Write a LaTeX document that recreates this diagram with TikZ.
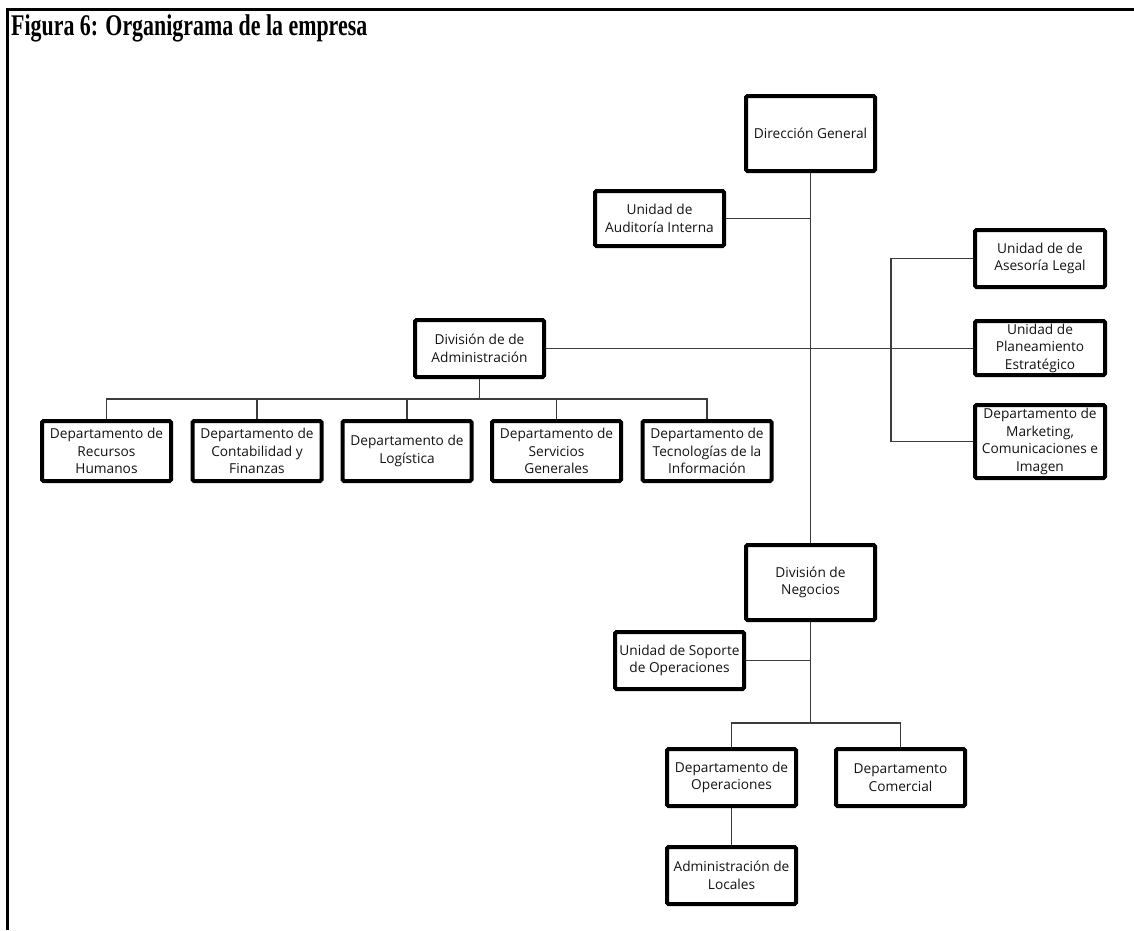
\documentclass[tikz,border=0pt]{standalone}
\usepackage{fontspec}
\setmainfont{Liberation Serif}
\newfontfamily\boxfont{Open Sans}
\usetikzlibrary{positioning}
\definecolor{conn}{HTML}{3C3C3C}
\definecolor{txt}{HTML}{141414}
\tikzset{
  orgbox/.style={draw=black, line width=4pt, rounded corners=1.5pt, fill=white,
    align=center, inner sep=0pt, text=txt,
    font=\boxfont\fontsize{13.7}{17.5}\selectfont},
  wide/.style={minimum width=129pt, minimum height=#1},
  link/.style={draw=conn, line width=1.3pt}
}
\begin{document}
\begin{tikzpicture}[x=1pt,y=-1pt]
\useasboundingbox (0,0) rectangle (1134,930);
% frame
\draw[line width=3pt] (7.5,930) -- (7.5,9) -- (1134,9);
% title
\node[anchor=base west, inner sep=0pt] (title) at (11,35)
  {\scalebox{0.73}[1]{\fontsize{30}{34}\selectfont\bfseries Figura 6: Organigrama de la empresa}};

% coordinates for buses
\coordinate (rb) at (891,348);
\coordinate (ab) at (479.5,399);
\coordinate (nb) at (810.5,723);

% connectors
\path[link] (810.5,173) -- (810.5,543);
\path[link] (810.5,622) -- (nb);
\path[link] (726,218.5) -- (810.5,218.5);
\path[link] (546,348.5) -- (973,348.5);
\path[link] (973,258.5) -| (rb) |- (973,441.5);
\path[link] (479.5,379) -- (ab);
\path[link] (106.5,419) -- (106.5,399) -- (707,399) -- (707,419);
\foreach \x in {257,407,556.5} \path[link] (\x,419) -- (\x,399);
\path[link] (746,660.5) -- (810.5,660.5);
\path[link] (731.5,747) -- (731.5,723) -- (900.5,723) -- (900.5,747);
\path[link] (731.5,808) -- (731.5,845);

% boxes
\node[orgbox, wide=75pt] (dg) at (810.5,133.5) {Dirección General};
\node[orgbox, wide=55pt] (aud) at (659.5,218.5) {Unidad de\\Auditoría Interna};
\node[orgbox, wide=57pt, minimum width=130pt] (leg) at (1040,258.5) {Unidad de de\\Asesoría Legal};
\node[orgbox, wide=54pt, minimum width=130pt] (pla) at (1040,348) {Unidad de\\Planeamiento\\Estratégico};
\node[orgbox, wide=73pt, minimum width=130pt] (mkt) at (1040,441.5) {Departamento de\\Marketing,\\Comunicaciones e\\Imagen};
\node[orgbox, wide=57pt] (adm) at (479.5,348.5) {División de de\\Administración};
\node[orgbox, wide=60pt] (b1) at (106.5,451) {Departamento de\\Recursos\\Humanos};
\node[orgbox, wide=60pt] (b2) at (257,451) {Departamento de\\Contabilidad y\\Finanzas};
\node[orgbox, wide=60pt] (b3) at (407,451) {Departamento de\\Logística};
\node[orgbox, wide=60pt] (b4) at (556.5,451) {Departamento de\\Servicios\\Generales};
\node[orgbox, wide=60pt] (b5) at (707,451) {Departamento de\\Tecnologías de la\\Información};
\node[orgbox, wide=75pt] (neg) at (810.5,582.5) {División de\\Negocios};
\node[orgbox, wide=57pt] (sop) at (679.5,660.5) {Unidad de Soporte\\de Operaciones};
\node[orgbox, wide=57pt] (ope) at (731.5,777.5) {Departamento de\\Operaciones};
\node[orgbox, wide=57pt] (com) at (900.5,777.5) {Departamento\\Comercial};
\node[orgbox, wide=57pt] (loc) at (731.5,875.5) {Administración de\\Locales};
\end{tikzpicture}
\end{document}
